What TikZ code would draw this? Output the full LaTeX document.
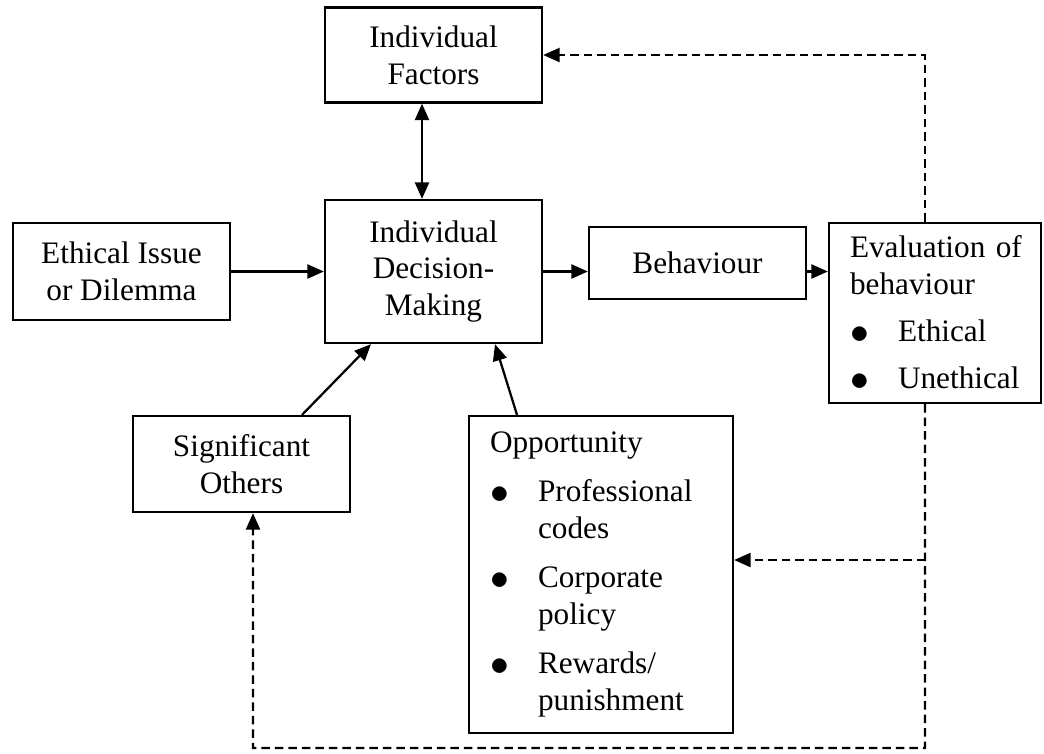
\documentclass[tikz,border=0pt]{standalone}
\usepackage{fontspec}
\setmainfont{Liberation Serif}
\usepackage{tikz}
\usetikzlibrary{arrows.meta}

\newcommand{\bitem}[1]{\makebox[19.2pt][l]{\raisebox{-0.8pt}{\scalebox{1.25}{$\bullet$}}}#1}
\newcommand{\bcont}[1]{\hspace*{19.2pt}#1}

\begin{document}
\begin{tikzpicture}[x=0.4pt, y=-0.4pt, line width=0.9pt,
  every node/.style = {font=\fontsize{12.5}{14.7}\selectfont},
  box/.style = {draw, align=center, minimum width=86.8pt},
  listbox/.style = {draw, align=left, inner xsep=8.4pt},
  link/.style = {-{Triangle[length=6.6pt,width=5.6pt]}},
  fb/.style = {link, dash pattern=on 3.4pt off 2pt}]
\useasboundingbox (0,0) rectangle (1044,753);

\node[box, minimum height=38pt] (fac) at (433.5,55) {Individual\\Factors};
\node[box, minimum height=38.8pt] (eth) at (121.5,271.5) {Ethical Issue\\or Dilemma};
\node[box, minimum height=57.2pt] (dm) at (433.5,271.5) {Individual\\Decision-\\Making};
\node[box, minimum height=28.8pt] (beh) at (697.5,263) {Behaviour};
\node[listbox, text width=68pt, minimum height=72pt] (eval) at (935,313)
  {Evaluation~of\\behaviour\\[4pt]\bitem{Ethical}\\[4pt]\bitem{Unethical}};
\node[box, minimum height=38.4pt] (so) at (241.5,464) {Significant\\Others};
\node[listbox, text width=88.8pt, minimum height=126.8pt] (opp) at (601,574.5)
  {Opportunity\\[5pt]\bitem{Professional}\\\bcont{codes}\\[5pt]\bitem{Corporate}\\\bcont{policy}\\[5pt]\bitem{Rewards/}\\\bcont{punishment}};

\coordinate (fbr) at (925,748);
\coordinate (fbl) at (253,748);
\coordinate (fbo) at (925,560);

% main flow
\draw[link] (eth.east) -- (eth.east -| dm.west);
\draw[link] (dm.east) -- (dm.east -| beh.west);
\draw[link] (dm.east -| beh.east) -- (dm.east -| eval.west);
\draw[link, {Triangle[length=6.6pt,width=5.6pt]}-{Triangle[length=6.6pt,width=5.6pt]}] ([xshift=-4.6pt]fac.south) -- ([xshift=-4.6pt]dm.north);
\draw[link] ([xshift=24.2pt]so.north) -- ([xshift=-25pt]dm.south);
\draw[link] ([xshift=-33.6pt]opp.north) -- ([xshift=24.6pt]dm.south);

% feedback
\draw[fb] ([xshift=-4pt]eval.north) |- (fac.east);
\draw[fb] ([xshift=-4pt]eval.south) -- (fbr) -- (fbl) -- (fbl |- so.south);
\draw[fb] (fbo) -- (fbo -| opp.east);

\end{tikzpicture}
\end{document}
